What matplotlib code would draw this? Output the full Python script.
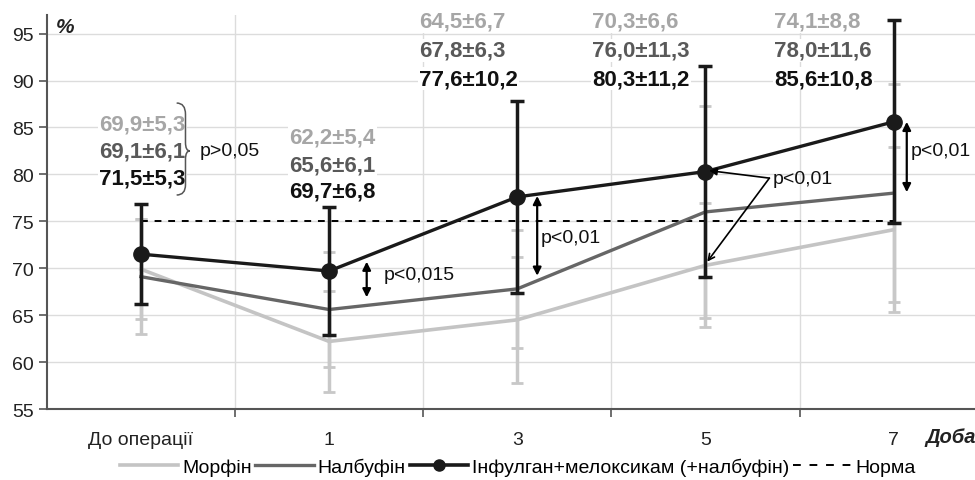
import matplotlib.pyplot as plt
import numpy as np
from matplotlib.path import Path
from matplotlib.patches import PathPatch
from matplotlib.lines import Line2D

plt.rcParams['font.family'] = ['Liberation Sans', 'DejaVu Sans']

## data
days = ['До операції', '1', '3', '5', '7']
morph = [69.9, 62.2, 64.5, 70.3, 74.1]
morph_sd = [5.3, 5.4, 6.7, 6.6, 8.8]
nalb = [69.1, 65.6, 67.8, 76.0, 78.0]
nalb_sd = [6.1, 6.1, 6.3, 11.3, 11.6]
inf = [71.5, 69.7, 77.6, 80.3, 85.6]
inf_sd = [5.3, 6.8, 10.2, 11.2, 10.8]
norma = [75, 75, 75, 75, 75]

c_morph = '#c4c4c4'
c_nalb = '#666666'
c_inf = '#1a1a1a'
c_bar = '#c8c8c8'

x = np.arange(len(days))

fig = plt.figure(figsize=(9.75, 4.81), dpi=100)
ax = fig.add_axes([0.048, 0.1476, 0.965, 0.8195])

## gray error bars behind everything
ax.errorbar(x, morph, yerr=morph_sd, fmt='none', ecolor=c_bar, elinewidth=2.5,
            capsize=4, capthick=2, zorder=2)
ax.errorbar(x, nalb, yerr=nalb_sd, fmt='none', ecolor=c_bar, elinewidth=2.5,
            capsize=4, capthick=2, zorder=2)

ax.plot(x, norma, color='black', lw=1.4, ls=(0, (3.5, 3.5)), zorder=3)
ax.plot(x, morph, color=c_morph, lw=2.6, zorder=4)
ax.plot(x, nalb, color=c_nalb, lw=2.4, zorder=5)
ax.errorbar(x, inf, yerr=inf_sd, fmt='none', ecolor=c_inf, elinewidth=2.5,
            capsize=5, capthick=2.5, zorder=6)
ax.plot(x, inf, color=c_inf, lw=2.4, marker='o', ms=11, zorder=7)

ax.set_xlim(-0.5, 4.5)
ax.set_ylim(55, 97)
ax.set_yticks(np.arange(55, 96, 5))
ax.set_xticks([0.5, 1.5, 2.5, 3.5])
ax.set_xticklabels([])
ax.set_xticks(x, minor=True)
ax.set_xticklabels(days, minor=True)
ax.tick_params(axis='x', which='minor', length=0, pad=16, labelsize=14, labelcolor='#222')
ax.tick_params(axis='x', which='major', length=6, width=1.2, color='#555')
ax.tick_params(axis='y', length=6, width=1.2, color='#555', labelsize=14, labelcolor='#222')
ax.grid(True, which='major', color='#dcdcdc', lw=1)
ax.set_axisbelow(True)
for s in ['top', 'right']:
    ax.spines[s].set_visible(False)
for s in ['left', 'bottom']:
    ax.spines[s].set_color('#555')
    ax.spines[s].set_linewidth(1.5)

ax.text(0.01, 0.995, '%', transform=ax.transAxes, fontsize=15, fontweight='bold',
        style='italic', va='top', color='#222')
fig.text(0.949, 0.090, 'Доба', fontsize=14.5, fontweight='bold', style='italic',
         color='#222', va='center', ha='left')

## mean ± sd labels
lab_x = [-0.223, 0.787, 1.479, 2.399, 3.367]
lab_y = [[85.4, 82.5, 79.6], [84.0, 81.0, 78.2], [96.3, 93.2, 90.2],
         [96.3, 93.2, 90.2], [96.3, 93.2, 90.2]]
groups = [(morph, morph_sd, '#a6a6a6'), (nalb, nalb_sd, '#595959'), (inf, inf_sd, '#111111')]
for i in range(len(days)):
    for j, (m, sd, col) in enumerate(groups):
        s = ('%.1f±%.1f' % (m[i], sd[i])).replace('.', ',')
        ax.text(lab_x[i], lab_y[i][j], s, fontsize=16, fontweight='bold', color=col,
                ha='left', va='center', zorder=8,
                bbox=dict(fc='white', ec='none', pad=1.0))

## brace for the first group
bx0, bx1, bx2 = 0.19, 0.237, 0.26
verts = [(bx0, 87.6), (bx1, 87.6), (bx1, 86.4), (bx1, 83.4), (bx1, 82.5), (bx2, 82.5),
         (bx1, 82.5), (bx1, 81.6), (bx1, 78.9), (bx1, 77.8), (bx0, 77.8)]
codes = [Path.MOVETO, Path.CURVE3, Path.CURVE3, Path.LINETO, Path.CURVE3, Path.CURVE3,
         Path.CURVE3, Path.CURVE3, Path.LINETO, Path.CURVE3, Path.CURVE3]
ax.add_patch(PathPatch(Path(verts, codes), fc='none', ec='#555', lw=1.1, zorder=9))
ax.text(0.31, 82.5, 'p>0,05', fontsize=14, va='center', ha='left', color='#111', zorder=9)

## p-value arrows
dbl = dict(arrowstyle='<|-|>', color='black', lw=1.6, mutation_scale=12, shrinkA=0, shrinkB=0)
ax.annotate('', xy=(1.2, 70.7), xytext=(1.2, 66.9), arrowprops=dbl, zorder=9)
ax.text(1.29, 69.3, 'p<0,015', fontsize=14, va='center', ha='left', color='#111', zorder=9)

ax.annotate('', xy=(2.106, 77.7), xytext=(2.106, 69.2), arrowprops=dbl, zorder=9)
ax.text(2.125, 73.3, 'p<0,01', fontsize=14, va='center', ha='left', color='#111', zorder=9)

ax.annotate('', xy=(4.07, 85.6), xytext=(4.07, 78.1), arrowprops=dbl, zorder=9)
ax.text(4.09, 82.5, 'p<0,01', fontsize=14, va='center', ha='left', color='#111', zorder=9)

sgl = dict(arrowstyle='-|>', color='black', lw=1.2, mutation_scale=11, shrinkA=0, shrinkB=0)
ax.annotate('', xy=(3.02, 80.4), xytext=(3.34, 79.6), arrowprops=sgl, zorder=9)
ax.annotate('', xy=(3.01, 70.7), xytext=(3.34, 79.6),
            arrowprops=dict(arrowstyle='->', color='black', lw=1.2, mutation_scale=11,
                            shrinkA=0, shrinkB=0), zorder=9)
ax.text(3.36, 79.6, 'p<0,01', fontsize=14, va='center', ha='left', color='#111', zorder=9)

## legend with proxy handles (smaller marker than on the plot)
h1 = Line2D([], [], color=c_morph, lw=2.6)
h2 = Line2D([], [], color=c_nalb, lw=2.4)
h3 = Line2D([], [], color=c_inf, lw=2.6, marker='o', ms=8)
h4 = Line2D([], [], color='black', lw=1.4, ls=(0, (4, 4.5)))
fig.legend(handles=[h1, h2, h3, h4],
           labels=['Морфін', 'Налбуфін', 'Інфулган+мелоксикам (+налбуфін)', 'Норма'],
           loc='center', bbox_to_anchor=(0.531, 0.028), ncol=4,
           frameon=False, fontsize=14, handlelength=3.0, handletextpad=0.2,
           columnspacing=0.2, borderpad=0, borderaxespad=0)

fig.savefig('out.png', dpi=100)
